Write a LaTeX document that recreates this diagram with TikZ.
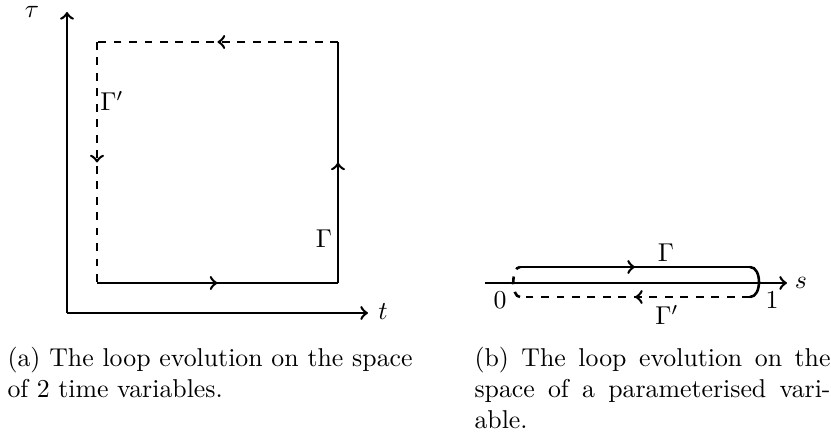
\documentclass[tikz,border=0pt]{standalone}
\usetikzlibrary{decorations.markings}
\begin{document}
\begin{tikzpicture}[x=0.3876pt,y=-0.3876pt,
  sline/.style={line width=1pt},
  dline/.style={line width=1pt,dashed},
  midarrow/.style={postaction={decorate},decoration={markings,mark=at position 0.5 with {\arrow{>}}}},
  lab/.style={inner sep=0pt,font=\normalsize},
  capbox/.style={inner sep=0pt,anchor=base west,align=justify}]
\useasboundingbox (0,0) rectangle (831,434);
% panel (a)
\coordinate (O) at (67,313);
\coordinate (ytip) at (67,12);
\coordinate (xtip) at (368,313);
\draw[sline,->] (O) -- (ytip);
\draw[sline,->] (O) -- (xtip);
\node[lab] (tau) at (32,12) {$\tau$};
\node[lab] (t) at (383,312) {$t$};
\coordinate (A) at (97,283);
\coordinate (B) at (338,283);
\coordinate (C) at (338,42);
\coordinate (D) at (97,42);
\draw[sline,midarrow] (A) -- (B);
\draw[sline,midarrow] (B) -- (C);
\draw[dline,midarrow] (C) -- (D);
\draw[dline,midarrow] (D) -- (A);
\node[lab] (G) at (324,239) {$\Gamma$};
\node[lab] (Gp) at (112,101) {$\Gamma'$};
% panel (b)
\coordinate (S0) at (485,283);
\coordinate (S1) at (787,283);
\draw[sline,->] (S0) -- (S1);
\node[lab] (s) at (801,283) {$s$};
\coordinate (L1) at (520,267);
\coordinate (R1) at (750,267);
\coordinate (R2) at (750,297);
\coordinate (L2) at (520,297);
\draw[sline,midarrow] (L1) -- (R1);
\draw[sline] (R1) .. controls (762,267) and (762,297) .. (R2);
\draw[dline,midarrow] (R2) -- (L2);
\draw[dline] (L2) .. controls (511,297) and (511,267) .. (L1);
\node[lab] (g2) at (666,253) {$\Gamma$};
\node[lab] (g2p) at (667,315) {$\Gamma'$};
\node[lab] (zero) at (500,300) {$0$};
\node[lab] (one) at (772,300) {$1$};
% captions
\node[capbox,text width=157pt] (capa) at (7,367) {(a) The loop evolution on the space of 2 time variables.};
\node[capbox,text width=138pt] (capb) at (474,367) {(b) The loop evolution on the space of a parameterised variable.};
\end{tikzpicture}
\end{document}
